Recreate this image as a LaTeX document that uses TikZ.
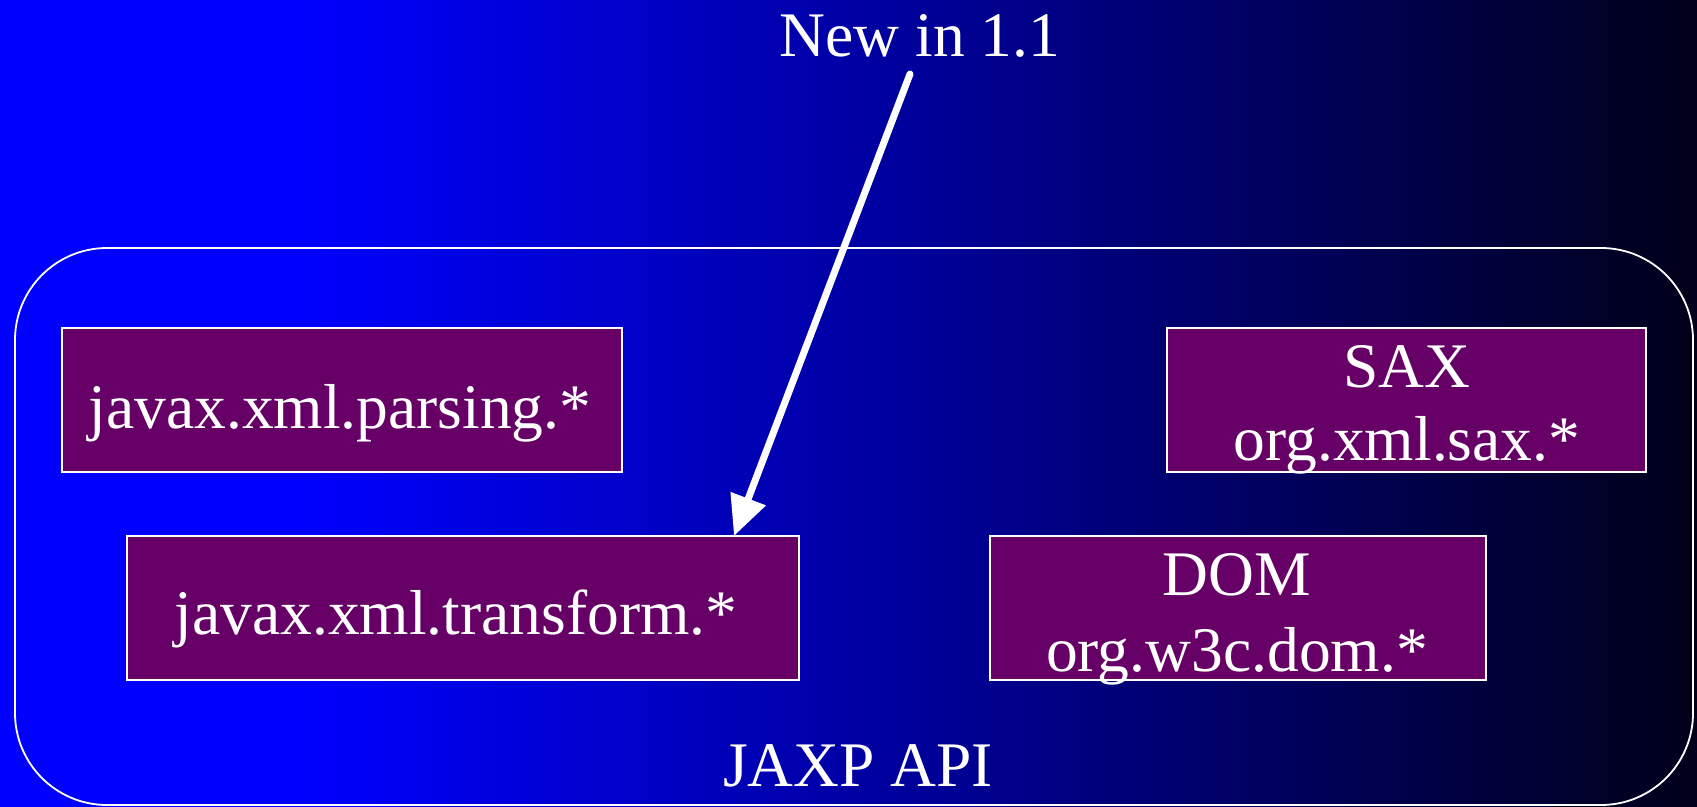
\documentclass[tikz,border=0pt]{standalone}
\usepackage{fontspec}
\setmainfont{Liberation Serif}
\usetikzlibrary{arrows.meta}
\definecolor{slideblue}{RGB}{0,0,255}
\definecolor{slidedark}{RGB}{0,0,24}
\definecolor{pkgpurple}{RGB}{102,0,102}
\begin{document}
\begin{tikzpicture}[x=1pt,y=-1pt,
  pkg/.style={draw=white,line width=1.6pt,fill=pkgpurple,inner sep=0pt},
  lbl/.style={text=white,font=\fontsize{63.5}{68}\selectfont,align=center,inner sep=0pt},
  arr/.style={draw=white,line width=7pt,line cap=round,-{Triangle[length=40pt,width=36pt]}}]
  % background: solid blue, then fading to near black
  \useasboundingbox (0,0) rectangle (1697,806);
  \fill[slideblue] (-10,-10) rectangle (301,816);
  \shade[left color=slideblue,right color=slidedark] (300,-10) rectangle (1707,816);
  % rounded frame of the API
  \draw[white,line width=1.8pt,rounded corners=92pt] (15,248) rectangle (1693,805);
  % package boxes
  \path[pkg] (62,328) rectangle (622,472);
  \path[pkg] (127,536) rectangle (799,680);
  \path[pkg] (1167,328) rectangle (1646,472);
  \path[pkg] (990,536) rectangle (1486,680);
  \node[lbl] (parsing) at (340,413) {javax.xml.parsing.*};
  \node[lbl] (transform) at (456,619) {javax.xml.transform.*};
  \node[lbl] (sax) at (1407,367) {SAX};
  \node[lbl] (saxpkg) at (1407,445) {org.xml.sax.*};
  \node[lbl] (dom) at (1237,575) {DOM};
  \node[lbl] (dompkg) at (1237,656) {org.w3c.dom.*};
  \node[lbl] (api) at (858,766) {JAXP API};
  \node[lbl] (new) at (920,36) {New in 1.1};
  % pointer to the new package
  \coordinate (start) at (910,74);
  \coordinate (tip) at (734,536);
  \draw[arr] (start) -- (tip);
\end{tikzpicture}
\end{document}
